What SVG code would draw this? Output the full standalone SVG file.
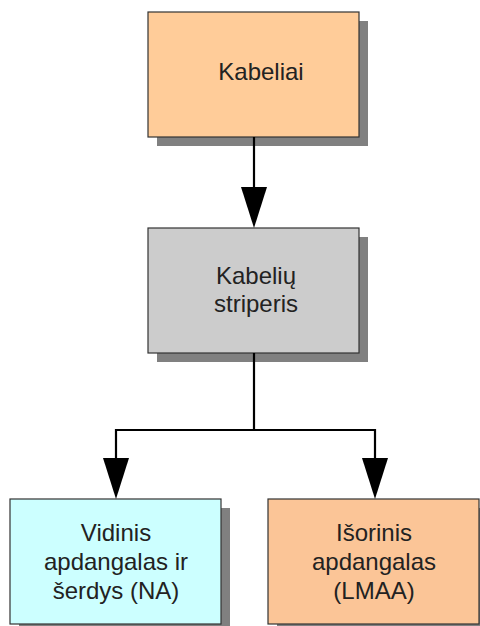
<svg xmlns="http://www.w3.org/2000/svg" width="480" height="626" viewBox="0 0 480 626">
<style>
.shadow{fill:#808080}
.box{stroke:#333;stroke-width:1.2}
.t{font-family:"Liberation Sans",Arial,sans-serif;font-size:24px;fill:#222;text-anchor:middle}
.c{fill:none;stroke:#000;stroke-width:2.2}
.ah{fill:#000}
</style>
<rect width="480" height="626" fill="#fff"/>
<g id="n1">
<rect class="shadow" x="157" y="21" width="211" height="125"/>
<rect class="box" x="148" y="12" width="211" height="125" fill="#FFCC99"/>
<text class="t" x="261" y="80">Kabeliai</text>
</g>
<g id="n2">
<rect class="shadow" x="157" y="237" width="211" height="125"/>
<rect class="box" x="148" y="228" width="211" height="125" fill="#CCCCCC"/>
<text class="t" x="256" y="284">Kabelių</text>
<text class="t" x="256" y="312">striperis</text>
</g>
<g id="n3">
<rect class="shadow" x="19" y="508" width="211" height="125"/>
<rect class="box" x="10" y="499" width="211" height="125" fill="#CCFFFF"/>
<text class="t" x="116" y="541">Vidinis</text>
<text class="t" x="116" y="570">apdangalas ir</text>
<text class="t" x="116" y="599">šerdys (NA)</text>
</g>
<g id="n4">
<rect class="shadow" x="277" y="508" width="211" height="125"/>
<rect class="box" x="268" y="499" width="211" height="125" fill="#FBC597"/>
<text class="t" x="374" y="541">Išorinis</text>
<text class="t" x="374" y="570">apdangalas</text>
<text class="t" x="374" y="599">(LMAA)</text>
</g>
<g id="connectors">
<path class="c" d="M254 137V190"/>
<polygon class="ah" points="241,187 267,187 254,228"/>
<path class="c" d="M254 353V430H116V460"/>
<path class="c" d="M254 430H375V460"/>
<polygon class="ah" points="103,458 129,458 116,499"/>
<polygon class="ah" points="362,458 388,458 375,499"/>
</g>
</svg>
